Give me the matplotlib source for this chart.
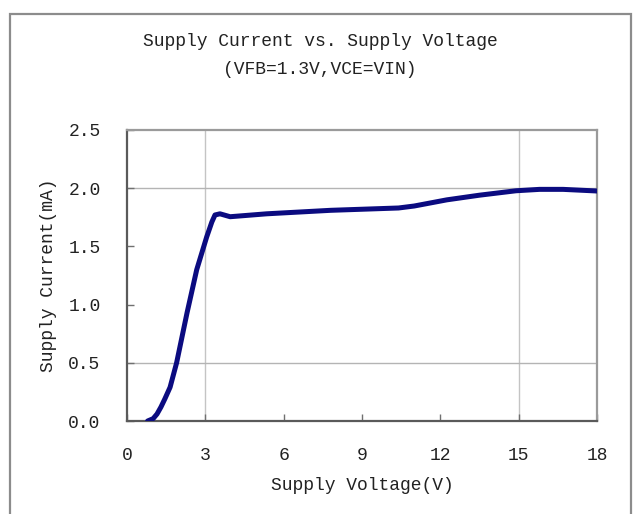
import matplotlib
matplotlib.use("Agg")
import matplotlib.pyplot as plt
from matplotlib.patches import Rectangle

# curve (V, mA)
voltage = [0.79, 1.0, 1.15, 1.3, 1.45, 1.65, 1.9, 2.3, 2.67, 3.05, 3.25,
           3.37, 3.56, 3.95, 5.35, 7.8, 10.4, 11.0, 12.25, 13.5, 14.9,
           15.8, 16.7, 18.0]
current = [0.0, 0.02, 0.06, 0.12, 0.19, 0.29, 0.5, 0.93, 1.30, 1.58, 1.71,
           1.77, 1.78, 1.755, 1.78, 1.81, 1.83, 1.847, 1.90, 1.94, 1.978,
           1.99, 1.99, 1.976]

x_ticks = [0, 3, 6, 9, 12, 15, 18]
y_ticks = [0.0, 0.5, 1.0, 1.5, 2.0, 2.5]
grid_v = [3, 15]
grid_h = [0.5, 2.0]

title = "Supply Current vs. Supply Voltage"
subtitle = "(VFB=1.3V,VCE=VIN)"

plt.rcParams["font.family"] = ["Liberation Mono", "DejaVu Sans Mono"]
FS = 13

W, H = 633, 514
fig = plt.figure(figsize=(W / 100, H / 100), dpi=100)
ax = fig.add_axes([127 / W, 1 - 421 / H, (597 - 127) / W, (421 - 130) / H])

# outer frame around the whole chart
fig.patches.append(Rectangle((10 / W, -0.05), (631 - 10) / W, 1.05 - 14 / H,
                             transform=fig.transFigure, fill=False,
                             edgecolor="#8c8c8c", lw=1.6, clip_on=False))

for x in grid_v:
    ax.axvline(x, color="#c4c4c4", lw=1.0, zorder=1)
for y in grid_h:
    ax.axhline(y, color="#b4b4b4", lw=1.0, zorder=1)

ax.plot(voltage, current, color="#0b0b80", lw=3.6, solid_capstyle="round",
        solid_joinstyle="round", zorder=3)

ax.set_xlim(0, 18)
ax.set_ylim(0, 2.5)
ax.set_xticks(x_ticks)
ax.set_yticks(y_ticks)
ax.set_xticklabels([str(t) for t in x_ticks])
ax.set_yticklabels([f"{t:.1f}" for t in y_ticks])
ax.tick_params(axis="both", direction="in", length=5, width=1,
               color="#707070", labelsize=FS, labelcolor="#222222")
ax.tick_params(axis="x", pad=19)
ax.tick_params(axis="y", pad=19)

for side in ("left", "bottom"):
    ax.spines[side].set_color("#5a5a5a")
    ax.spines[side].set_linewidth(1.6)
for side in ("top", "right"):
    ax.spines[side].set_color("#9a9a9a")
    ax.spines[side].set_linewidth(1.6)

ax.set_xlabel("Supply Voltage(V)", fontsize=FS, color="#222222", labelpad=9)
ax.set_ylabel("Supply Current(mA)", fontsize=FS, color="#222222", labelpad=8)

fig.text(320 / W, 1 - 42 / H, title, ha="center", va="center",
         fontsize=FS, color="#222222")
fig.text(320 / W, 1 - 69 / H, subtitle, ha="center", va="center",
         fontsize=FS, color="#222222")

fig.savefig("out.png", dpi=100)
